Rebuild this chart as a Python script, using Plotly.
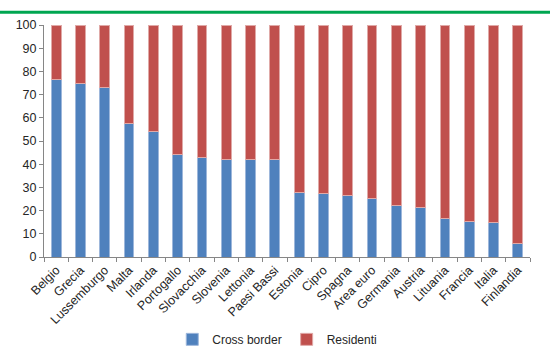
import plotly.graph_objects as go

paesi = ["Belgio", "Grecia", "Lussemburgo", "Malta", "Irlanda", "Portogallo",
         "Slovacchia", "Slovenia", "Lettonia", "Paesi Bassi", "Estonia", "Cipro",
         "Spagna", "Area euro", "Germania", "Austria", "Lituania", "Francia",
         "Italia", "Finlandia"]
cross_border = [76.6, 74.6, 73.1, 57.5, 53.9, 44.3, 42.8, 42.1, 42.1, 42.0,
                27.9, 27.2, 26.6, 25.3, 22.4, 21.5, 16.7, 15.5, 14.9, 5.9]
residenti = [round(100 - v, 1) for v in cross_border]
y_ticks = list(range(0, 101, 10))

font_fam = "Liberation Sans, Arial, sans-serif"

fig = go.Figure()
fig.add_trace(go.Bar(
    x=paesi, y=cross_border, name="Cross border",
    marker=dict(color="#4F81BD", line=dict(color="#9DB7DB", width=1)),
))
fig.add_trace(go.Bar(
    x=paesi, y=residenti, name="Residenti",
    marker=dict(color="#C0504D", line=dict(color="#E0A9A7", width=1)),
))

fig.update_layout(
    barmode="stack",
    bargap=0.6,
    width=550, height=347,
    margin=dict(l=44, r=20, t=25, b=90, autoexpand=False),
    plot_bgcolor="white", paper_bgcolor="white",
    font=dict(family=font_fam, size=12, color="#262626"),
    showlegend=True,
    legend=dict(orientation="h", x=0.48, xanchor="center", y=-0.355,
                yanchor="middle", font=dict(size=12),
                itemwidth=30, traceorder="normal"),
    shapes=[dict(type="line", xref="paper", yref="paper",
                 x0=-0.2, x1=1.2, y0=1.055, y1=1.055,
                 line=dict(color="#00A651", width=3))],
)
fig.update_xaxes(
    automargin=False,
    showline=True, linecolor="#868686", linewidth=1,
    ticks="outside", ticklen=4, tickcolor="#868686", tickson="boundaries",
    tickangle=-45, showgrid=False, tickfont=dict(size=12.5),
)
fig.update_yaxes(
    automargin=False,
    range=[0, 100], tickvals=y_ticks, showline=True, linecolor="#868686",
    linewidth=1, ticks="outside", ticklen=4, tickcolor="#868686",
    showgrid=False, zeroline=False, tickfont=dict(size=12.5),
)

fig.write_html("out.html")
